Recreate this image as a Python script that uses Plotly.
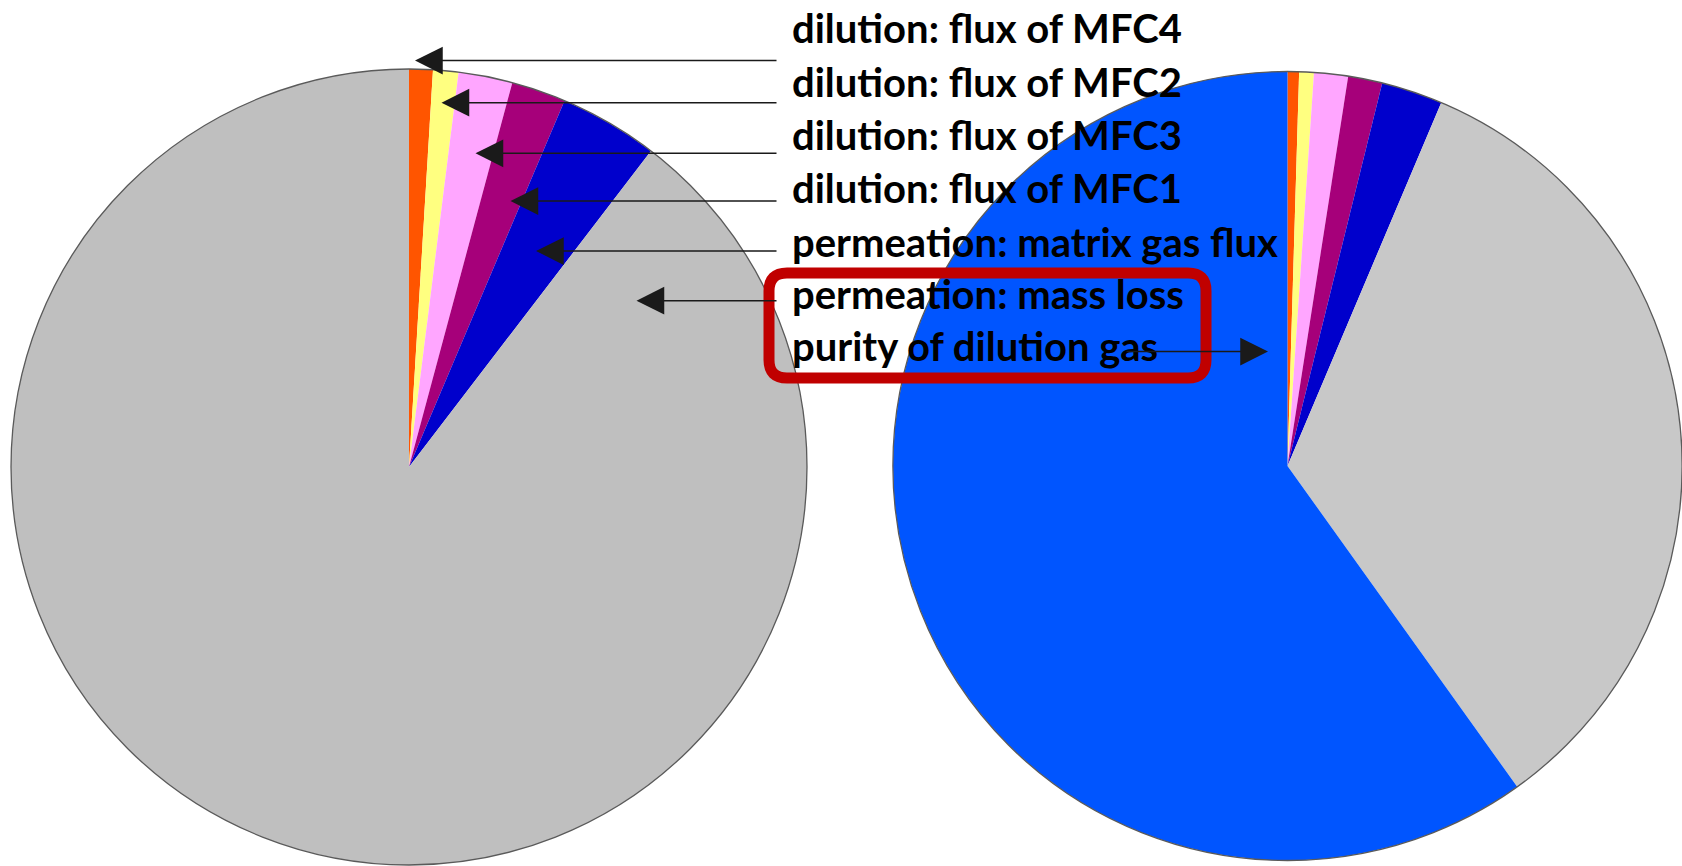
import plotly.graph_objects as go

W, H = 1682, 866

# slice categories, clockwise from 12 o'clock
categories = [
    "dilution: flux of MFC4",
    "dilution: flux of MFC2",
    "dilution: flux of MFC3",
    "dilution: flux of MFC1",
    "permeation: matrix gas flux",
    "permeation: mass loss",
    "purity of dilution gas",
]
# relative contributions (%) for the two cases
left_values = [0.96, 1.03, 2.19, 2.21, 4.01, 89.6, 0.0]
right_values = [0.47, 0.60, 1.39, 1.40, 2.51, 33.74, 59.89]

left_colors = ["#FF5500", "#FFFF80", "#FFA6FF", "#A6007A", "#0000CC", "#BFBFBF", "#0055FF"]
right_colors = ["#FF5500", "#FFFF80", "#FFA6FF", "#A6007A", "#0000CC", "#C8C8C8", "#0055FF"]


def px(x):
    return x / W


def py(y):
    return 1 - y / H


left_dom = dict(x=[px(11), px(807)], y=[py(865), py(69)])
right_dom = dict(x=[px(893), 1.0], y=[py(860.5), py(71.5)])

fig = go.Figure()

for vals, cols, dom in [(left_values, left_colors, left_dom), (right_values, right_colors, right_dom)]:
    fig.add_trace(go.Pie(
        labels=categories, values=vals, sort=False, direction="clockwise", rotation=0,
        marker=dict(colors=cols, line=dict(width=0)),
        textinfo="none", hoverinfo="label+percent", showlegend=False, domain=dom,
    ))
    # thin outline around the whole pie
    fig.add_trace(go.Pie(
        labels=["outline"], values=[1], sort=False,
        marker=dict(colors=["rgba(0,0,0,0)"], line=dict(color="#5A5A5A", width=1.3)),
        textinfo="none", hoverinfo="skip", showlegend=False, domain=dom,
    ))

annotations = []

# category labels
label_baselines = [40, 94, 147, 200, 254, 306, 358]
for name, base in zip(categories, label_baselines):
    annotations.append(dict(
        text=name, x=px(790), y=py(base - 12), xref="paper", yref="paper",
        xanchor="left", yanchor="middle", showarrow=False,
        font=dict(family="Lato", size=40, color="black", weight="bold"),
    ))

# arrows from the labels to the slices
arrow_tips = [(415, 60.5), (441.5, 102.7), (475.5, 153.3), (510.5, 201), (536, 251), (636.5, 300.7)]
for tx, ty in arrow_tips:
    annotations.append(dict(
        text="", x=px(tx), y=py(ty), xref="paper", yref="paper",
        ax=778 - tx, ay=0, showarrow=True, arrowhead=2, arrowsize=3.7,
        arrowwidth=1.5, arrowcolor="#1A1A1A",
    ))
annotations.append(dict(
    text="", x=px(1268), y=py(351.5), xref="paper", yref="paper",
    ax=1125 - 1268, ay=0, showarrow=True, arrowhead=2, arrowsize=3.7,
    arrowwidth=1.5, arrowcolor="#1A1A1A",
))

# rounded highlight frame around the last two labels
x0, x1, y0, y1, r = 769, 1206, 273, 378, 18
path = (
    f"M {px(x0 + r)} {py(y0)} L {px(x1 - r)} {py(y0)} "
    f"Q {px(x1)} {py(y0)} {px(x1)} {py(y0 + r)} L {px(x1)} {py(y1 - r)} "
    f"Q {px(x1)} {py(y1)} {px(x1 - r)} {py(y1)} L {px(x0 + r)} {py(y1)} "
    f"Q {px(x0)} {py(y1)} {px(x0)} {py(y1 - r)} L {px(x0)} {py(y0 + r)} "
    f"Q {px(x0)} {py(y0)} {px(x0 + r)} {py(y0)} Z"
)

fig.update_layout(
    width=W, height=H,
    margin=dict(l=0, r=0, t=0, b=0),
    paper_bgcolor="white", plot_bgcolor="white",
    annotations=annotations,
    shapes=[dict(type="path", path=path, xref="paper", yref="paper",
                 line=dict(color="#C00000", width=11), layer="above")],
)

fig.write_html("out.html")
